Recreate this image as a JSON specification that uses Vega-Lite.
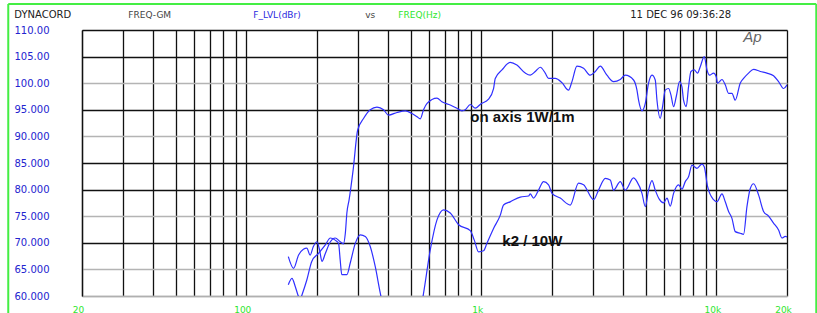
{
  "$schema": "https://vega.github.io/schema/vega-lite/v6.json",
  "width": 705,
  "height": 266,
  "autosize": {"type": "none"},
  "padding": {"left": 82, "top": 30, "right": 30, "bottom": 17},
  "background": "white",
  "config": {"view": {"stroke": null}},
  "resolve": {"axis": {"x": "independent", "y": "independent"}},
  "datasets": {
    "one": [{}],
    "curves": [
      {"f": 151, "db": 67.4, "s": "on"}, {"f": 159, "db": 65.2, "s": "on"}, {"f": 167, "db": 67.7, "s": "on"}, {"f": 175, "db": 68.8, "s": "on"},
      {"f": 181, "db": 69.0, "s": "on"}, {"f": 187, "db": 67.7, "s": "on"}, {"f": 193, "db": 69.3, "s": "on"}, {"f": 200, "db": 70.2, "s": "on"},
      {"f": 205, "db": 68.7, "s": "on"}, {"f": 210, "db": 66.5, "s": "on"}, {"f": 217, "db": 68.0, "s": "on"}, {"f": 228, "db": 70.2, "s": "on"},
      {"f": 239, "db": 70.9, "s": "on"}, {"f": 251, "db": 70.2, "s": "on"}, {"f": 259, "db": 69.8, "s": "on"}, {"f": 264, "db": 71.8, "s": "on"},
      {"f": 268, "db": 75.6, "s": "on"}, {"f": 274, "db": 78.1, "s": "on"}, {"f": 285, "db": 83.7, "s": "on"}, {"f": 298, "db": 91.2, "s": "on"},
      {"f": 316, "db": 93.4, "s": "on"},
      {"f": 337, "db": 95.0, "s": "on"}, {"f": 360, "db": 95.5, "s": "on"}, {"f": 384, "db": 95.0, "s": "on"}, {"f": 403, "db": 94.0, "s": "on"},
      {"f": 438, "db": 94.5, "s": "on"}, {"f": 475, "db": 94.8, "s": "on"}, {"f": 507, "db": 94.3, "s": "on"}, {"f": 533, "db": 93.7, "s": "on"},
      {"f": 550, "db": 93.3, "s": "on"}, {"f": 568, "db": 95.0, "s": "on"}, {"f": 588, "db": 96.2, "s": "on"}, {"f": 648, "db": 97.2, "s": "on"},
      {"f": 680, "db": 96.5, "s": "on"}, {"f": 738, "db": 95.9, "s": "on"}, {"f": 788, "db": 95.3, "s": "on"}, {"f": 828, "db": 94.8, "s": "on"},
      {"f": 855, "db": 95.0, "s": "on"}, {"f": 898, "db": 96.0, "s": "on"}, {"f": 943, "db": 95.3, "s": "on"}, {"f": 995, "db": 96.1, "s": "on"},
      {"f": 1074, "db": 97.0, "s": "on"}, {"f": 1128, "db": 99.0, "s": "on"}, {"f": 1147, "db": 100.9, "s": "on"}, {"f": 1225, "db": 102.5, "s": "on"},
      {"f": 1328, "db": 103.9, "s": "on"}, {"f": 1418, "db": 103.4, "s": "on"}, {"f": 1539, "db": 101.9, "s": "on"}, {"f": 1616, "db": 101.5, "s": "on"},
      {"f": 1698, "db": 102.2, "s": "on"}, {"f": 1783, "db": 103.0, "s": "on"}, {"f": 1872, "db": 101.9, "s": "on"}, {"f": 1934, "db": 100.9, "s": "on"},
      {"f": 2065, "db": 100.9, "s": "on"}, {"f": 2205, "db": 100.1, "s": "on"}, {"f": 2352, "db": 98.7, "s": "on"}, {"f": 2432, "db": 100.3, "s": "on"},
      {"f": 2554, "db": 103.2, "s": "on"}, {"f": 2725, "db": 102.8, "s": "on"}, {"f": 2910, "db": 101.5, "s": "on"}, {"f": 3056, "db": 102.2, "s": "on"},
      {"f": 3209, "db": 103.2, "s": "on"}, {"f": 3426, "db": 101.5, "s": "on"}, {"f": 3656, "db": 100.3, "s": "on"}, {"f": 3904, "db": 100.7, "s": "on"},
      {"f": 4101, "db": 101.5, "s": "on"}, {"f": 4447, "db": 100.6, "s": "on"}, {"f": 4598, "db": 98.7, "s": "on"}, {"f": 4671, "db": 96.8, "s": "on"},
      {"f": 4830, "db": 94.8, "s": "on"}, {"f": 4989, "db": 96.2, "s": "on"}, {"f": 5151, "db": 100.0, "s": "on"}, {"f": 5327, "db": 101.5, "s": "on"},
      {"f": 5500, "db": 100.6, "s": "on"}, {"f": 5594, "db": 96.8, "s": "on"}, {"f": 5777, "db": 93.4, "s": "on"}, {"f": 5909, "db": 95.6, "s": "on"},
      {"f": 6067, "db": 98.7, "s": "on"}, {"f": 6266, "db": 99.0, "s": "on"}, {"f": 6414, "db": 97.8, "s": "on"}, {"f": 6581, "db": 95.6, "s": "on"},
      {"f": 6758, "db": 97.5, "s": "on"}, {"f": 6979, "db": 100.3, "s": "on"}, {"f": 7145, "db": 99.3, "s": "on"}, {"f": 7259, "db": 96.8, "s": "on"},
      {"f": 7452, "db": 95.6, "s": "on"}, {"f": 7622, "db": 99.3, "s": "on"}, {"f": 7803, "db": 102.2, "s": "on"}, {"f": 8060, "db": 102.5, "s": "on"},
      {"f": 8325, "db": 101.9, "s": "on"}, {"f": 8549, "db": 103.1, "s": "on"}, {"f": 8890, "db": 105.0, "s": "on"}, {"f": 9130, "db": 102.5, "s": "on"},
      {"f": 9366, "db": 101.5, "s": "on"}, {"f": 9739, "db": 101.9, "s": "on"}, {"f": 10000, "db": 101.2, "s": "on"}, {"f": 10128, "db": 100.0, "s": "on"},
      {"f": 10575, "db": 100.7, "s": "on"}, {"f": 10922, "db": 99.7, "s": "on"}, {"f": 11282, "db": 98.1, "s": "on"}, {"f": 11663, "db": 98.1, "s": "on"},
      {"f": 12046, "db": 96.8, "s": "on"}, {"f": 12649, "db": 100.0, "s": "on"}, {"f": 13069, "db": 100.9, "s": "on"}, {"f": 13724, "db": 101.9, "s": "on"},
      {"f": 14413, "db": 102.6, "s": "on"}, {"f": 15390, "db": 102.2, "s": "on"}, {"f": 16432, "db": 101.9, "s": "on"}, {"f": 17530, "db": 101.4, "s": "on"},
      {"f": 18415, "db": 100.3, "s": "on"}, {"f": 19340, "db": 99.0, "s": "on"}, {"f": 20000, "db": 99.7, "s": "on"},

      {"f": 151, "db": 62.1, "s": "k2"}, {"f": 156.5, "db": 63.3, "s": "k2"}, {"f": 161.6, "db": 61.8, "s": "k2"}, {"f": 166.9, "db": 59.9, "s": "k2"},
      {"f": 170, "db": 59.4, "s": "k2"}, {"f": 172.6, "db": 60.2, "s": "k2"}, {"f": 181, "db": 63.0, "s": "k2"}, {"f": 190, "db": 66.5, "s": "k2"},
      {"f": 203, "db": 68.0, "s": "k2"}, {"f": 217, "db": 69.6, "s": "k2"}, {"f": 228, "db": 70.9, "s": "k2"}, {"f": 239, "db": 70.5, "s": "k2"},
      {"f": 247, "db": 69.9, "s": "k2"}, {"f": 251, "db": 66.8, "s": "k2"}, {"f": 255, "db": 64.0, "s": "k2"}, {"f": 268, "db": 64.0, "s": "k2"},
      {"f": 277, "db": 66.2, "s": "k2"}, {"f": 291, "db": 69.9, "s": "k2"}, {"f": 306, "db": 71.5, "s": "k2"}, {"f": 321, "db": 71.2, "s": "k2"},
      {"f": 337, "db": 69.3, "s": "k2"}, {"f": 354, "db": 65.5, "s": "k2"}, {"f": 372, "db": 60.5, "s": "k2"},
      {"f": 400, "db": 55, "s": "k2"}, {"f": 480, "db": 52, "s": "k2"}, {"f": 545, "db": 56, "s": "k2"},
      {"f": 568, "db": 60.5, "s": "k2"}, {"f": 607, "db": 68.7, "s": "k2"}, {"f": 648, "db": 74.3, "s": "k2"}, {"f": 691, "db": 76.2, "s": "k2"},
      {"f": 738, "db": 75.6, "s": "k2"}, {"f": 801, "db": 73.4, "s": "k2"},
      {"f": 898, "db": 72.3, "s": "k2"}, {"f": 934, "db": 70.5, "s": "k2"}, {"f": 974, "db": 68.3, "s": "k2"}, {"f": 1023, "db": 68.5, "s": "k2"},
      {"f": 1057, "db": 69.9, "s": "k2"}, {"f": 1128, "db": 72.7, "s": "k2"}, {"f": 1205, "db": 75.2, "s": "k2"}, {"f": 1244, "db": 77.1, "s": "k2"},
      {"f": 1328, "db": 77.7, "s": "k2"}, {"f": 1466, "db": 78.6, "s": "k2"}, {"f": 1590, "db": 78.8, "s": "k2"}, {"f": 1616, "db": 79.2, "s": "k2"},
      {"f": 1669, "db": 78.4, "s": "k2"}, {"f": 1753, "db": 79.9, "s": "k2"}, {"f": 1841, "db": 81.5, "s": "k2"}, {"f": 1934, "db": 80.9, "s": "k2"},
      {"f": 2000, "db": 79.3, "s": "k2"}, {"f": 2169, "db": 78.4, "s": "k2"}, {"f": 2392, "db": 77.1, "s": "k2"}, {"f": 2594, "db": 81.2, "s": "k2"},
      {"f": 2725, "db": 80.9, "s": "k2"}, {"f": 3006, "db": 78.1, "s": "k2"}, {"f": 3156, "db": 79.9, "s": "k2"}, {"f": 3371, "db": 82.1, "s": "k2"},
      {"f": 3539, "db": 81.8, "s": "k2"}, {"f": 3656, "db": 79.9, "s": "k2"}, {"f": 3904, "db": 81.5, "s": "k2"},
      {"f": 4101, "db": 79.9, "s": "k2"}, {"f": 4447, "db": 82.2, "s": "k2"}, {"f": 4598, "db": 81.5, "s": "k2"}, {"f": 4830, "db": 79.3, "s": "k2"},
      {"f": 4989, "db": 76.8, "s": "k2"}, {"f": 5151, "db": 79.9, "s": "k2"}, {"f": 5327, "db": 81.7, "s": "k2"}, {"f": 5500, "db": 79.9, "s": "k2"},
      {"f": 5720, "db": 78.2, "s": "k2"}, {"f": 5967, "db": 77.5, "s": "k2"}, {"f": 6169, "db": 78.4, "s": "k2"}, {"f": 6373, "db": 76.9, "s": "k2"},
      {"f": 6581, "db": 79.3, "s": "k2"}, {"f": 6911, "db": 80.9, "s": "k2"}, {"f": 7145, "db": 80.1, "s": "k2"}, {"f": 7382, "db": 81.5, "s": "k2"},
      {"f": 7622, "db": 82.4, "s": "k2"}, {"f": 7882, "db": 84.6, "s": "k2"}, {"f": 8277, "db": 84.0, "s": "k2"}, {"f": 8692, "db": 84.8, "s": "k2"},
      {"f": 8890, "db": 84.3, "s": "k2"}, {"f": 9183, "db": 80.6, "s": "k2"}, {"f": 9739, "db": 78.1, "s": "k2"}, {"f": 10070, "db": 77.7, "s": "k2"},
      {"f": 10575, "db": 79.2, "s": "k2"}, {"f": 10922, "db": 77.7, "s": "k2"}, {"f": 11282, "db": 75.9, "s": "k2"}, {"f": 11663, "db": 74.6, "s": "k2"},
      {"f": 12046, "db": 72.1, "s": "k2"}, {"f": 12649, "db": 71.8, "s": "k2"}, {"f": 13069, "db": 71.6, "s": "k2"}, {"f": 13509, "db": 76.8, "s": "k2"},
      {"f": 13955, "db": 80.2, "s": "k2"}, {"f": 14413, "db": 81.1, "s": "k2"}, {"f": 15136, "db": 79.0, "s": "k2"}, {"f": 15898, "db": 75.9, "s": "k2"},
      {"f": 16696, "db": 75.0, "s": "k2"}, {"f": 17530, "db": 73.7, "s": "k2"}, {"f": 18415, "db": 72.4, "s": "k2"}, {"f": 19039, "db": 70.9, "s": "k2"},
      {"f": 19665, "db": 71.2, "s": "k2"}, {"f": 20000, "db": 71.1, "s": "k2"}
    ]
  },
  "layer": [
    {
      "data": {"name": "curves"},
      "mark": {"type": "line", "color": "#2f2fff", "strokeWidth": 1.2, "clip": true, "interpolate": "monotone"},
      "encoding": {
        "x": {
          "field": "f", "type": "quantitative",
          "scale": {"type": "log", "domain": [20, 20000], "nice": false},
          "axis": {
            "title": null,
            "values": [20, 30, 40, 50, 60, 70, 80, 90, 100, 200, 300, 400, 500, 600, 700, 800, 900, 1000, 2000, 3000, 4000, 5000, 6000, 7000, 8000, 9000, 10000, 20000],
            "labelExpr": "datum.value == 20 ? '20' : datum.value == 100 ? '100' : datum.value == 1000 ? '1k' : datum.value == 10000 ? '10k' : datum.value == 20000 ? '20k' : ''",
            "grid": true, "gridColor": "#111111", "gridWidth": 1.3,
            "ticks": false, "domain": true, "domainColor": "#b0b0b0", "domainWidth": 1.3,
            "labelColor": "#2ee62e", "labelFont": "DejaVu Sans", "labelFontSize": 9,
            "labelPadding": 13, "labelBaseline": "middle", "labelOffset": -4,
            "labelFlush": false, "labelOverlap": false, "labelBound": false
          }
        },
        "y": {
          "field": "db", "type": "quantitative",
          "scale": {"domain": [60, 110], "nice": false, "zero": false},
          "axis": {
            "title": null,
            "values": [60, 65, 70, 75, 80, 85, 90, 95, 100, 105, 110],
            "labelExpr": "datum.value >= 100 ? format(datum.value, '.2f') : format(datum.value, '.3f')",
            "grid": true,
            "gridColor": {"condition": {"test": "indexof([70, 80, 85, 95, 105, 110], datum.value) >= 0", "value": "#111111"}, "value": "#b4b4b4"},
            "gridWidth": 1.3,
            "ticks": false, "domain": true, "domainColor": "#111111", "domainWidth": 1.3,
            "labelColor": "#2323cf", "labelFont": "DejaVu Sans", "labelFontSize": 10,
            "labelAlign": "left", "labelPadding": 68, "labelBaseline": "middle",
            "labelFlush": false, "labelOverlap": false, "labelBound": false
          }
        },
        "detail": {"field": "s", "type": "nominal"}
      }
    },
    {
      "data": {"name": "one"},
      "mark": {"type": "rule", "color": "#44ee44", "strokeWidth": 2, "clip": false},
      "encoding": {
        "x": {"datum": 9.71, "type": "quantitative", "axis": null},
        "y": {"datum": 114.9, "type": "quantitative", "axis": null},
        "y2": {"datum": 40}
      }
    },
    {
      "data": {"name": "one"},
      "mark": {"type": "rule", "color": "#44ee44", "strokeWidth": 2, "clip": false},
      "encoding": {
        "x": {"datum": 26640, "type": "quantitative", "axis": null},
        "y": {"datum": 114.9, "type": "quantitative", "axis": null},
        "y2": {"datum": 40}
      }
    },
    {
      "data": {"name": "one"},
      "mark": {"type": "rule", "color": "#44ee44", "strokeWidth": 2, "clip": false},
      "encoding": {
        "x": {"datum": 9.71, "type": "quantitative", "axis": null},
        "x2": {"datum": 26640},
        "y": {"datum": 114.9, "type": "quantitative", "axis": null}
      }
    },
    {
      "data": {"name": "one"},
      "mark": {"type": "text", "text": "DYNACORD", "align": "left", "baseline": "middle", "font": "DejaVu Sans", "fontSize": 10, "color": "#222222", "clip": false},
      "encoding": {"x": {"datum": 10.3, "type": "quantitative", "axis": null}, "y": {"datum": 112.75, "type": "quantitative", "axis": null}}
    },
    {
      "data": {"name": "one"},
      "mark": {"type": "text", "text": "FREQ-GM", "align": "left", "baseline": "middle", "font": "DejaVu Sans", "fontSize": 9, "color": "#444444", "clip": false},
      "encoding": {"x": {"datum": 31.5, "type": "quantitative", "axis": null}, "y": {"datum": 112.75, "type": "quantitative", "axis": null}}
    },
    {
      "data": {"name": "one"},
      "mark": {"type": "text", "text": "F_LVL(dBr)", "align": "left", "baseline": "middle", "font": "DejaVu Sans", "fontSize": 9, "color": "#2a2ae0", "clip": false},
      "encoding": {"x": {"datum": 107.1, "type": "quantitative", "axis": null}, "y": {"datum": 112.75, "type": "quantitative", "axis": null}}
    },
    {
      "data": {"name": "one"},
      "mark": {"type": "text", "text": "vs", "align": "left", "baseline": "middle", "font": "DejaVu Sans", "fontSize": 9, "color": "#444444", "clip": false},
      "encoding": {"x": {"datum": 321, "type": "quantitative", "axis": null}, "y": {"datum": 112.75, "type": "quantitative", "axis": null}}
    },
    {
      "data": {"name": "one"},
      "mark": {"type": "text", "text": "FREQ(Hz)", "align": "left", "baseline": "middle", "font": "DejaVu Sans", "fontSize": 9, "color": "#2ee62e", "clip": false},
      "encoding": {"x": {"datum": 443.5, "type": "quantitative", "axis": null}, "y": {"datum": 112.75, "type": "quantitative", "axis": null}}
    },
    {
      "data": {"name": "one"},
      "mark": {"type": "text", "text": "11 DEC 96 09:36:28", "align": "left", "baseline": "middle", "font": "DejaVu Sans", "fontSize": 10, "color": "#222222", "clip": false},
      "encoding": {"x": {"datum": 4305, "type": "quantitative", "axis": null}, "y": {"datum": 112.75, "type": "quantitative", "axis": null}}
    },
    {
      "data": {"name": "one"},
      "mark": {"type": "text", "text": "Ap", "align": "left", "baseline": "middle", "font": "Liberation Sans", "fontSize": 15, "fontStyle": "italic", "color": "#666666", "clip": false},
      "encoding": {"x": {"datum": 13030, "type": "quantitative", "axis": null}, "y": {"datum": 108.7, "type": "quantitative", "axis": null}}
    },
    {
      "data": {"name": "one"},
      "mark": {"type": "text", "text": "on axis 1W/1m", "align": "left", "baseline": "middle", "font": "Liberation Sans", "fontSize": 15, "fontWeight": "bold", "color": "#111111"},
      "encoding": {"x": {"datum": 898, "type": "quantitative", "axis": null}, "y": {"datum": 93.65, "type": "quantitative", "axis": null}}
    },
    {
      "data": {"name": "one"},
      "mark": {"type": "text", "text": "k2 / 10W", "align": "left", "baseline": "middle", "font": "Liberation Sans", "fontSize": 15, "fontWeight": "bold", "color": "#111111"},
      "encoding": {"x": {"datum": 1229, "type": "quantitative", "axis": null}, "y": {"datum": 70.35, "type": "quantitative", "axis": null}}
    }
  ]
}
